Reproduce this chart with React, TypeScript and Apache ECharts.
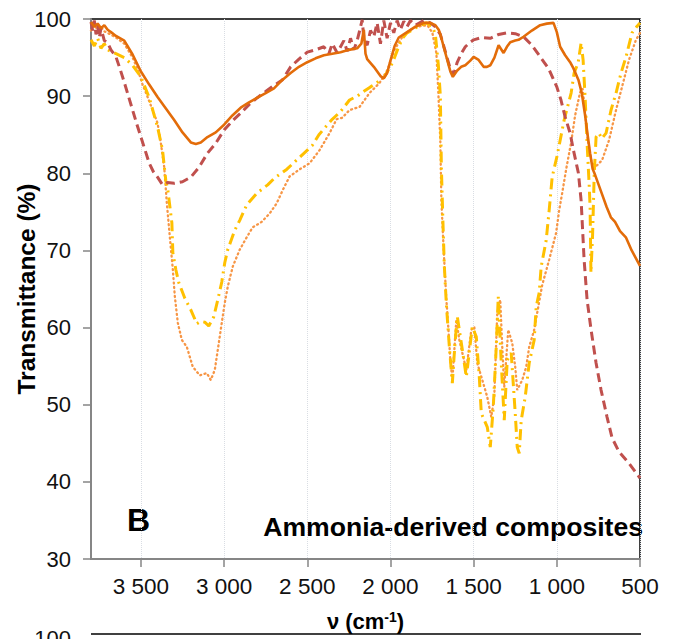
import React, { useEffect, useRef } from "react";
import * as echarts from "echarts";

// Wavenumber (cm-1) / transmittance (%) pairs
const solidX = [3800,3780,3760,3740,3720,3700,3680,3650,3600,3550,3500,3450,3400,3350,3300,3250,3200,3170,3140,3100,3050,3000,2950,2900,2850,2800,2750,2700,2650,2600,2550,2500,2450,2400,2350,2300,2250,2200,2175,2160,2150,2140,2100,2060,2040,2020,2000,1975,1950,1900,1850,1800,1760,1730,1710,1700,1680,1660,1640,1625,1600,1575,1550,1520,1500,1470,1440,1420,1400,1375,1350,1320,1300,1280,1250,1230,1200,1150,1100,1060,1020,1000,980,950,920,900,870,850,830,815,800,785,770,750,730,700,675,650,620,585,550,500];
const solidY = [99.6,99.0,99.4,98.8,99.2,98.6,98.3,97.8,97.2,95.4,93.2,91.5,89.9,88.4,86.9,85.3,84.0,83.8,84.0,84.7,85.3,86.3,87.5,88.5,89.2,89.8,90.4,91.0,92.1,93.0,93.8,94.4,94.9,95.3,95.5,95.7,96.0,96.2,96.8,98.6,95.5,94.8,93.8,92.6,92.3,93.0,94.6,96.5,97.6,98.3,99.0,99.5,99.5,99.2,98.6,98.0,96.4,94.8,93.2,92.5,93.3,93.8,94.0,94.6,95.1,94.7,93.8,93.8,94.0,95.0,96.6,95.6,96.4,97.0,97.2,97.3,97.7,98.5,99.2,99.4,99.5,98.3,96.4,95.3,94.4,93.6,92.1,90.4,87.5,85.0,82.6,80.6,79.8,78.6,77.4,75.6,74.3,73.7,72.5,71.7,70.0,68.0];

const dashX = [3800,3790,3780,3770,3760,3750,3740,3720,3700,3680,3650,3625,3600,3575,3550,3525,3500,3475,3450,3425,3400,3370,3340,3300,3250,3200,3150,3100,3050,3000,2950,2900,2850,2800,2750,2700,2650,2600,2550,2500,2450,2400,2370,2350,2320,2300,2280,2260,2240,2220,2200,2185,2170,2160,2140,2120,2100,2080,2060,2040,2020,2000,1980,1960,1940,1920,1900,1880,1850,1800,1760,1730,1700,1680,1660,1640,1620,1600,1575,1550,1525,1500,1450,1400,1350,1300,1250,1200,1150,1100,1050,1000,975,950,920,900,880,870,854,836,818,794,764,734,698,668,626,566,500];
const dashY = [99.6,98.5,99.8,98.0,99.2,97.6,98.8,97.2,96.9,96.0,95.1,93.5,91.8,90.0,88.2,86.4,84.7,83.0,81.3,80.2,79.5,78.5,78.8,78.7,78.9,79.5,80.8,82.6,83.9,85.6,86.8,87.8,88.9,89.8,90.6,91.4,92.1,93.8,94.8,95.7,96.0,96.4,95.5,96.8,95.6,96.4,97.2,95.8,97.5,96.0,97.2,98.5,99.9,97.5,96.6,98.5,97.7,99.5,96.8,99.8,97.5,99.5,98.2,99.8,98.6,99.7,99.0,99.8,99.2,99.8,99.5,99.0,98.0,96.5,95.0,93.5,92.8,94.3,95.5,96.4,96.9,97.3,97.6,97.5,98.0,98.2,98.1,97.7,96.6,95.1,93.6,91.2,89.5,87.3,85.2,83.0,81.0,80.0,76.5,68.8,63.6,59.7,55.4,51.9,48.4,45.7,43.9,42.4,40.5];

const yellowX = [3800,3780,3760,3740,3720,3700,3650,3600,3550,3500,3450,3400,3370,3350,3338,3314,3308,3290,3272,3236,3200,3164,3140,3116,3092,3062,3038,3014,2996,2978,2936,2906,2864,2804,2738,2696,2624,2550,2470,2430,2350,2300,2246,2200,2168,2120,2084,2036,2010,1988,1958,1928,1900,1868,1820,1784,1748,1730,1712,1700,1694,1685,1676,1664,1646,1628,1612,1598,1574,1544,1508,1484,1466,1454,1418,1400,1382,1364,1352,1334,1316,1298,1274,1250,1238,1226,1214,1190,1166,1136,1124,1106,1094,1064,1046,1028,998,956,914,896,872,854,842,830,818,806,800,795,785,775,764,746,730,704,674,644,614,584,548,520,500];
const yellowY = [97.3,96.5,97.5,96.2,96.8,96.0,95.5,95.0,94.0,92.5,89.8,86.0,83.0,79.0,77.8,73.6,69.7,67.5,65.8,63.8,62.3,60.5,60.8,60.7,60.2,61.4,63.6,65.9,68.4,70.1,72.6,73.9,75.9,77.4,78.5,79.4,80.5,82.0,83.6,85.0,87.0,88.0,89.5,90.0,90.5,91.2,91.7,92.5,93.5,94.3,96.0,97.5,98.2,98.6,99.2,99.5,99.0,98.0,94.0,90.0,80.8,74.0,67.9,63.0,57.5,52.8,58.0,61.4,58.0,53.6,60.1,58.8,53.6,48.9,47.1,44.5,49.7,57.5,64.0,55.4,48.0,55.8,56.7,48.9,44.5,43.7,48.0,51.0,55.4,58.4,62.7,64.5,67.9,71.3,75.2,79.5,82.3,86.9,90.4,93.0,94.3,96.9,94.7,89.9,83.9,78.7,75.6,67.1,72.0,80.0,84.7,85.2,84.5,85.2,88.2,90.4,93.0,95.1,98.2,99.0,99.5];

const dotX = [3800,3780,3760,3740,3720,3700,3650,3600,3550,3520,3490,3460,3430,3400,3380,3360,3344,3326,3308,3296,3278,3254,3224,3188,3146,3104,3080,3056,3038,3014,2996,2978,2948,2906,2864,2828,2774,2726,2684,2648,2606,2540,2486,2426,2366,2324,2290,2246,2186,2126,2066,2018,1976,1928,1880,1844,1778,1748,1724,1712,1700,1694,1680,1664,1658,1640,1628,1604,1586,1544,1514,1496,1478,1448,1418,1394,1376,1358,1340,1328,1316,1292,1268,1250,1238,1208,1184,1166,1136,1118,1088,1046,1004,986,968,944,914,890,860,845,830,815,790,760,728,686,644,608,566,524,500];
const dotY = [98.5,99.2,98.6,99.0,98.4,98.2,97.6,96.8,95.0,93.5,91.5,89.9,88.2,86.5,83.9,80.8,76.1,71.7,67.5,64.0,60.6,58.4,57.5,54.9,53.8,54.1,53.2,54.5,57.1,60.6,63.2,65.3,67.9,70.1,71.7,73.0,73.7,74.8,76.1,77.8,79.6,80.6,81.3,83.0,85.2,87.0,87.2,88.2,88.6,90.4,91.7,93.4,96.0,97.7,98.6,99.0,99.2,98.2,95.6,90.4,84.0,76.5,70.0,63.6,61.9,55.8,53.2,61.0,58.4,54.5,59.7,60.1,55.4,53.2,51.0,48.4,51.0,61.9,63.6,57.5,52.3,59.7,58.0,54.9,51.9,53.2,54.9,57.5,59.7,61.9,65.5,68.8,72.3,75.2,77.4,80.5,84.0,87.5,90.5,91.0,88.0,84.5,81.3,81.0,81.7,84.3,88.2,91.2,94.7,97.3,98.2];

const xTicks = [500, 1000, 1500, 2000, 2500, 3000, 3500];
const yTicks = [30, 40, 50, 60, 70, 80, 90, 100];

const pairs = (xs: number[], ys: number[]) => xs.map((x, i) => [x, ys[i]]);
const FONT = "'Liberation Sans', Arial, Helvetica, sans-serif";
const fmtNum = (v: number) => String(v).replace(/\B(?=(\d{3})+(?!\d))/g, " ");

export default function App() {
  const ref = useRef<HTMLDivElement>(null);
  useEffect(() => {
    if (!ref.current) return;
    const chart = echarts.init(ref.current, undefined, { renderer: "svg" });
    const axisGray = "#868686";
    chart.setOption({
      animation: false,
      backgroundColor: "#ffffff",
      textStyle: { fontFamily: FONT },
      grid: {
        left: 91, right: 34, top: 19, bottom: 80,
        containLabel: false,
        outerBoundsMode: "none",
        show: true, borderColor: "#000000", borderWidth: 1.5, backgroundColor: "transparent",
      },
      xAxis: {
        type: "value",
        inverse: true,
        min: 500,
        max: 3800,
        interval: 500,
        axisLine: { show: true, lineStyle: { color: axisGray, width: 2 } },
        axisTick: { show: true, length: 8, inside: false, customValues: xTicks, lineStyle: { color: axisGray, width: 1.5 } },
        axisLabel: {
          customValues: xTicks,
          fontSize: 22.5, color: "#111", margin: 16, fontFamily: FONT,
          formatter: (v: number) => fmtNum(v),
        },
        splitLine: { show: true, lineStyle: { color: "#D9DDE3", type: "dotted", width: 1 } },
        name: "{a|ν (cm}{s|-1}{a|)}",
        nameLocation: "middle",
        nameGap: 51,
        nameMoveOverlap: false,
        nameTextStyle: {
          rich: {
            a: { fontSize: 22, fontWeight: "bold", color: "#000", fontFamily: FONT },
            s: { fontSize: 14, fontWeight: "bold", color: "#000", fontFamily: FONT, padding: [0, 0, 9, 0] },
          },
        },
      },
      yAxis: {
        type: "value",
        min: 30,
        max: 100,
        interval: 10,
        axisLine: { show: true, lineStyle: { color: axisGray, width: 2 } },
        axisTick: { show: true, length: 8, inside: false, lineStyle: { color: axisGray, width: 1.5 } },
        axisLabel: { fontSize: 22, color: "#111", margin: 20, fontFamily: FONT, customValues: yTicks },
        splitLine: { show: false },
        name: "Transmittance (%)",
        nameLocation: "middle",
        nameGap: 52,
        nameMoveOverlap: false,
        nameTextStyle: { fontSize: 24.5, fontWeight: "bold", color: "#000", fontFamily: FONT },
      },
      series: [
        {
          type: "line", name: "dotted", data: pairs(dotX, dotY), showSymbol: false, z: 2,
          lineStyle: { color: "#F79646", width: 2.3, type: [1, 3.5], cap: "round" },
        },
        {
          type: "line", name: "dashdot", data: pairs(yellowX, yellowY), showSymbol: false, z: 3,
          lineStyle: { color: "#FFC000", width: 3, type: [11, 5, 2, 5] },
        },
        {
          type: "line", name: "dashed", data: pairs(dashX, dashY), showSymbol: false, z: 4,
          lineStyle: { color: "#C0504D", width: 3, type: [9, 5] },
        },
        {
          type: "line", name: "solid", data: pairs(solidX, solidY), showSymbol: false, z: 5,
          lineStyle: { color: "#E36C09", width: 2.6 },
        },
      ],
      graphic: [
        {
          type: "text", left: 127, top: 504,
          style: { text: "B", fontSize: 32, fontWeight: "bold", fill: "#000", fontFamily: FONT },
        },
        {
          type: "text", right: 31, top: 513,
          style: { text: "Ammonia-derived composites", fontSize: 26.6, fontWeight: "bold", fill: "#000", fontFamily: FONT },
        },
        {
          type: "line",
          shape: { x1: 91, y1: 634, x2: 641, y2: 634 },
          style: { stroke: "#000", lineWidth: 1.5 },
        },
        {
          type: "text", x: 71, y: 638,
          style: { text: "100", fontSize: 22, fill: "#111", fontFamily: FONT, align: "right", verticalAlign: "middle" },
        },
      ],
    });
    return () => chart.dispose();
  }, []);
  return (
    <div
      ref={ref}
      style={{ position: "fixed", left: 0, top: 0, width: 674, height: 639, background: "#fff" }}
    />
  );
}
